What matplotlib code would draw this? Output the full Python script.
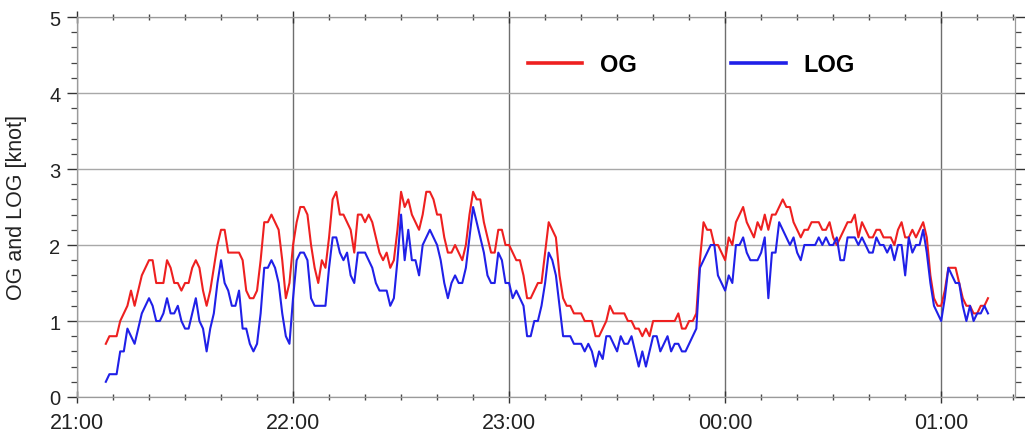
import numpy as np
import matplotlib
matplotlib.use("Agg")
import matplotlib.pyplot as plt
from matplotlib.ticker import MultipleLocator, FixedLocator

plt.rcParams['font.family'] = ['Liberation Sans', 'DejaVu Sans']

# Speed over ground (OG) and speed through water (LOG), one sample per minute,
# first sample at 21:08.
start_minute = 8
og = [
    0.7, 0.8, 0.8, 0.8, 1.0, 1.1, 1.2, 1.4, 1.2, 1.4,
    1.6, 1.7, 1.8, 1.8, 1.5, 1.5, 1.5, 1.8, 1.7, 1.5,
    1.5, 1.4, 1.5, 1.5, 1.7, 1.8, 1.7, 1.4, 1.2, 1.4,
    1.7, 2.0, 2.2, 2.2, 1.9, 1.9, 1.9, 1.9, 1.8, 1.4,
    1.3, 1.3, 1.4, 1.8, 2.3, 2.3, 2.4, 2.3, 2.2, 1.8,
    1.3, 1.5, 2.0, 2.3, 2.5, 2.5, 2.4, 2.0, 1.7, 1.5,
    1.8, 1.7, 2.1, 2.6, 2.7, 2.4, 2.4, 2.3, 2.2, 1.9,
    2.4, 2.4, 2.3, 2.4, 2.3, 2.1, 1.9, 1.8, 1.9, 1.7,
    1.8, 2.2, 2.7, 2.5, 2.6, 2.4, 2.3, 2.2, 2.4, 2.7,
    2.7, 2.6, 2.4, 2.4, 2.1, 1.9, 1.9, 2.0, 1.9, 1.8,
    2.0, 2.4, 2.7, 2.6, 2.6, 2.3, 2.1, 1.9, 1.9, 2.2,
    2.2, 2.0, 2.0, 1.9, 1.8, 1.8, 1.6, 1.3, 1.3, 1.4,
    1.5, 1.5, 1.9, 2.3, 2.2, 2.1, 1.6, 1.3, 1.2, 1.2,
    1.1, 1.1, 1.1, 1.0, 1.0, 1.0, 0.8, 0.8, 0.9, 1.0,
    1.2, 1.1, 1.1, 1.1, 1.1, 1.0, 1.0, 0.9, 0.9, 0.8,
    0.9, 0.8, 1.0, 1.0, 1.0, 1.0, 1.0, 1.0, 1.0, 1.1,
    0.9, 0.9, 1.0, 1.0, 1.1, 1.8, 2.3, 2.2, 2.2, 2.0,
    2.0, 1.9, 1.8, 2.1, 2.0, 2.3, 2.4, 2.5, 2.3, 2.2,
    2.1, 2.3, 2.2, 2.4, 2.2, 2.4, 2.4, 2.5, 2.6, 2.5,
    2.5, 2.3, 2.2, 2.1, 2.2, 2.2, 2.3, 2.3, 2.3, 2.2,
    2.2, 2.3, 2.1, 2.0, 2.1, 2.2, 2.3, 2.3, 2.4, 2.1,
    2.3, 2.2, 2.1, 2.1, 2.2, 2.2, 2.1, 2.1, 2.1, 2.0,
    2.2, 2.3, 2.1, 2.1, 2.2, 2.1, 2.2, 2.3, 2.1, 1.6,
    1.3, 1.2, 1.2, 1.4, 1.7, 1.7, 1.7, 1.5, 1.3, 1.2,
    1.2, 1.1, 1.1, 1.2, 1.2, 1.3,
]
log = [
    0.2, 0.3, 0.3, 0.3, 0.6, 0.6, 0.9, 0.8, 0.7, 0.9,
    1.1, 1.2, 1.3, 1.2, 1.0, 1.0, 1.1, 1.3, 1.1, 1.1,
    1.2, 1.0, 0.9, 0.9, 1.1, 1.3, 1.0, 0.9, 0.6, 0.9,
    1.1, 1.5, 1.8, 1.5, 1.4, 1.2, 1.2, 1.4, 0.9, 0.9,
    0.7, 0.6, 0.7, 1.1, 1.7, 1.7, 1.8, 1.7, 1.5, 1.1,
    0.8, 0.7, 1.3, 1.8, 1.9, 1.9, 1.8, 1.3, 1.2, 1.2,
    1.2, 1.2, 1.7, 2.1, 2.1, 1.9, 1.8, 1.9, 1.6, 1.5,
    1.9, 1.9, 1.9, 1.8, 1.7, 1.5, 1.4, 1.4, 1.4, 1.2,
    1.3, 1.8, 2.4, 1.8, 2.2, 1.8, 1.8, 1.6, 2.0, 2.1,
    2.2, 2.1, 2.0, 1.8, 1.5, 1.3, 1.5, 1.6, 1.5, 1.5,
    1.7, 2.1, 2.5, 2.3, 2.1, 1.9, 1.6, 1.5, 1.5, 1.9,
    1.8, 1.5, 1.5, 1.3, 1.4, 1.3, 1.2, 0.8, 0.8, 1.0,
    1.0, 1.2, 1.5, 1.9, 1.8, 1.6, 1.2, 0.8, 0.8, 0.8,
    0.7, 0.7, 0.7, 0.6, 0.7, 0.6, 0.4, 0.6, 0.5, 0.8,
    0.8, 0.7, 0.6, 0.8, 0.7, 0.7, 0.8, 0.6, 0.4, 0.6,
    0.4, 0.6, 0.8, 0.8, 0.6, 0.7, 0.8, 0.6, 0.7, 0.7,
    0.6, 0.6, 0.7, 0.8, 0.9, 1.7, 1.8, 1.9, 2.0, 2.0,
    1.6, 1.5, 1.4, 1.6, 1.5, 2.0, 2.0, 2.1, 1.9, 1.8,
    1.8, 1.8, 1.9, 2.1, 1.3, 1.9, 1.9, 2.3, 2.2, 2.1,
    2.0, 2.1, 1.9, 1.8, 2.0, 2.0, 2.0, 2.0, 2.1, 2.0,
    2.1, 2.0, 2.0, 2.1, 1.8, 1.8, 2.1, 2.1, 2.1, 2.0,
    2.1, 2.0, 1.9, 1.9, 2.1, 2.0, 2.0, 1.9, 2.0, 1.8,
    2.0, 2.0, 1.6, 2.1, 1.9, 2.0, 2.0, 2.2, 1.9, 1.5,
    1.2, 1.1, 1.0, 1.3, 1.7, 1.6, 1.5, 1.5, 1.2, 1.0,
    1.2, 1.0, 1.1, 1.1, 1.2, 1.1,
]
hour_ticks = [0, 60, 120, 180, 240]
hour_labels = ["21:00", "22:00", "23:00", "00:00", "01:00"]
y_ticks = [0, 1, 2, 3, 4, 5]

minutes = start_minute + np.arange(len(og))

fig = plt.figure(figsize=(10.25, 4.35), dpi=100)
ax = fig.add_axes([77 / 1025, 1 - 398 / 435, (1015 - 77) / 1025, 380 / 435])

ax.plot(minutes, og, color='#ee2020', lw=1.5, label='OG', zorder=3)
ax.plot(minutes, log, color='#2020e8', lw=1.5, label='LOG', zorder=3)

ax.set_xlim(0, 260.5)
ax.set_ylim(0, 5)
ax.xaxis.set_major_locator(FixedLocator(hour_ticks))
ax.set_xticklabels(hour_labels)
ax.xaxis.set_minor_locator(MultipleLocator(10))
ax.yaxis.set_major_locator(FixedLocator(y_ticks))
ax.yaxis.set_minor_locator(MultipleLocator(0.2))

ax.grid(True, axis='x', which='major', color='#6e6e6e', lw=1.0, zorder=1)
ax.grid(True, axis='y', which='major', color='#a8a8a8', lw=1.0, zorder=1)

for s in ax.spines.values():
    s.set_color('#9a9a9a')
    s.set_linewidth(0.9)

ax.tick_params(axis='x', which='major', direction='inout', length=9, width=1.0,
               color='#333333', labelsize=15.5, pad=6, top=True, labelcolor='#222222')
ax.tick_params(axis='x', which='minor', direction='inout', length=5, width=1.0,
               color='#444444', top=True)
ax.tick_params(axis='y', which='major', direction='out', length=7, width=1.0,
               color='#333333', labelsize=14.5, pad=5, right=True, labelcolor='#222222')
ax.tick_params(axis='y', which='minor', direction='out', length=4, width=0.9,
               color='#444444', right=True)

ax.set_ylabel('OG and LOG [knot]', fontsize=15.5, color='#222222')
ax.yaxis.set_label_coords(-50 / 938, 0.5)

ax.legend(loc='center left', bbox_to_anchor=((528 - 77) / 938, (398 - 66) / 380),
          ncol=2, frameon=False, borderpad=0, borderaxespad=0,
          handlelength=2.3, handletextpad=0.75, columnspacing=4.0,
          prop={'weight': 'bold', 'size': 17})
for line in ax.get_legend().get_lines():
    line.set_linewidth(2.6)

fig.savefig('out.png', dpi=100, facecolor='white')
